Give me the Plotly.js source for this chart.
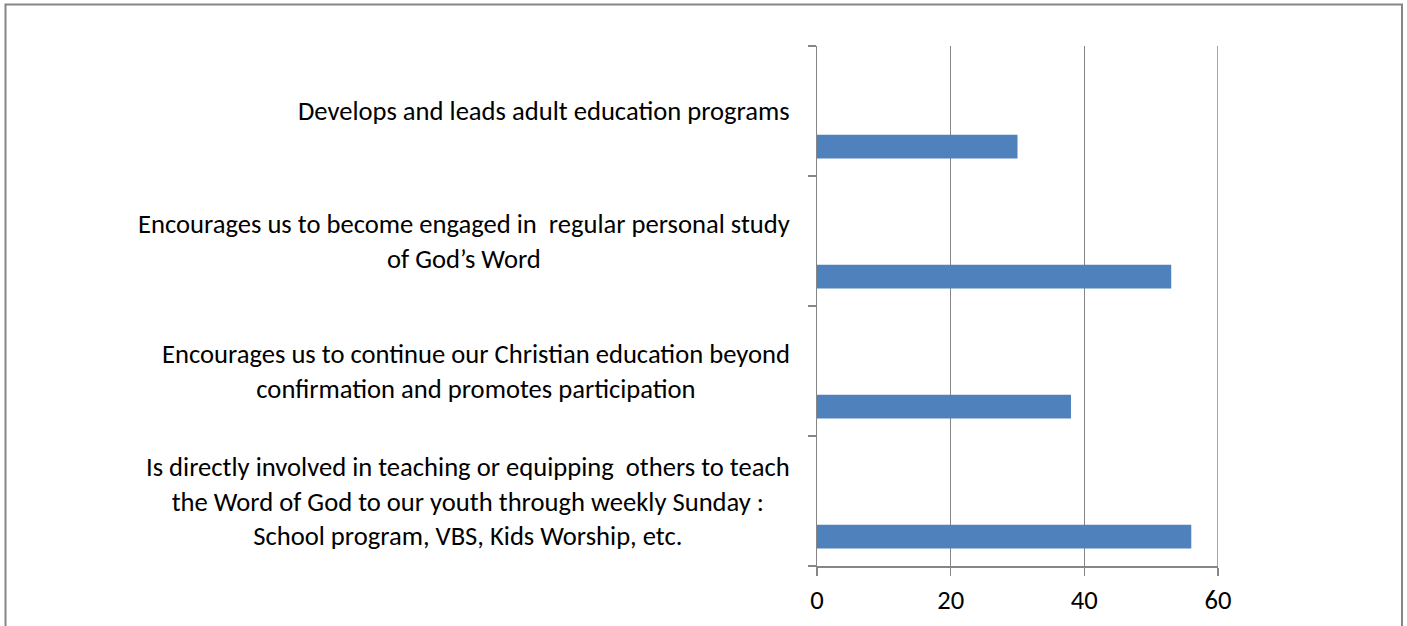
<!DOCTYPE html>
<html>
<head>
<meta charset="utf-8">
<script src="https://cdn.plot.ly/plotly-3.0.1.min.js"></script>
<style>html,body{margin:0;padding:0;background:#fff;}#chart{width:1407px;height:626px;}</style>
</head>
<body>
<div id="chart"></div>
<script>
// Categories listed bottom to top
const categories = [
  "Is directly involved in teaching or equipping\u00a0 others to teach<br>the Word of God to our youth through weekly Sunday :<br>School program, VBS, Kids Worship, etc.",
  "Encourages us to continue our Christian education beyond<br>confirmation and promotes participation",
  "Encourages us to become engaged in\u00a0 regular personal study<br>of God\u2019s Word",
  "Develops and leads adult education programs"
];
const values = [56, 38, 53, 30];
const xTicks = [0, 20, 40, 60];

const FONT = "Carlito, Lato, sans-serif";
const GRAY = "#868686";

const data = [{
  type: "bar",
  orientation: "h",
  y: categories.map((c, i) => i),
  x: values,
  offset: -0.365,
  width: 0.182,
  marker: {color: "#4F81BD", line: {width: 0}},
  hoverinfo: "x"
}];

const annotations = categories.map((c, i) => ({
  xref: "paper", yref: "y",
  x: 0, y: i,
  xanchor: "right", yanchor: "middle",
  xshift: -25,
  text: c,
  align: "center",
  showarrow: false,
  font: {family: FONT, size: 26.6, color: "#000"}
}));

const layout = {
  width: 1407, height: 626,
  margin: {l: 817, r: 189, t: 46, b: 60, pad: 0},
  paper_bgcolor: "#fff", plot_bgcolor: "#fff",
  showlegend: false,
  font: {family: FONT, color: "#000"},
  xaxis: {
    range: [0, 60],
    tickvals: xTicks,
    ticktext: xTicks.map(String),
    showgrid: true, gridcolor: GRAY, gridwidth: 1.5,
    showline: true, linecolor: GRAY, linewidth: 1.5,
    ticks: "outside", ticklen: 8, tickcolor: GRAY, tickwidth: 1.5,
    ticklabelstandoff: 2,
    tickfont: {family: FONT, size: 26.6, color: "#000"},
    zeroline: false, fixedrange: true
  },
  yaxis: {
    range: [-0.5, 3.5],
    tickvals: [-0.5, 0.5, 1.5, 2.5, 3.5],
    showticklabels: false,
    showgrid: false,
    showline: true, linecolor: GRAY, linewidth: 1.5,
    ticks: "outside", ticklen: 8, tickcolor: GRAY, tickwidth: 1.5,
    zeroline: false, fixedrange: true
  },
  annotations: annotations,
  shapes: [
    {
      type: "line", xref: "x", yref: "paper",
      x0: xTicks[xTicks.length - 1], x1: xTicks[xTicks.length - 1], y0: 0, y1: 1,
      line: {color: GRAY, width: 1.5}, layer: "below"
    },
    {
      type: "rect", xref: "paper", yref: "paper",
      x0: (5.5 - 817) / 401, x1: (1402 - 817) / 401,
      y0: -0.3, y1: (566 - 4.5) / 520,
      line: {color: GRAY, width: 2}, fillcolor: "rgba(0,0,0,0)", layer: "below"
    }
  ]
};

Plotly.newPlot("chart", data, layout, {displayModeBar: false, staticPlot: true});
</script>
</body>
</html>
